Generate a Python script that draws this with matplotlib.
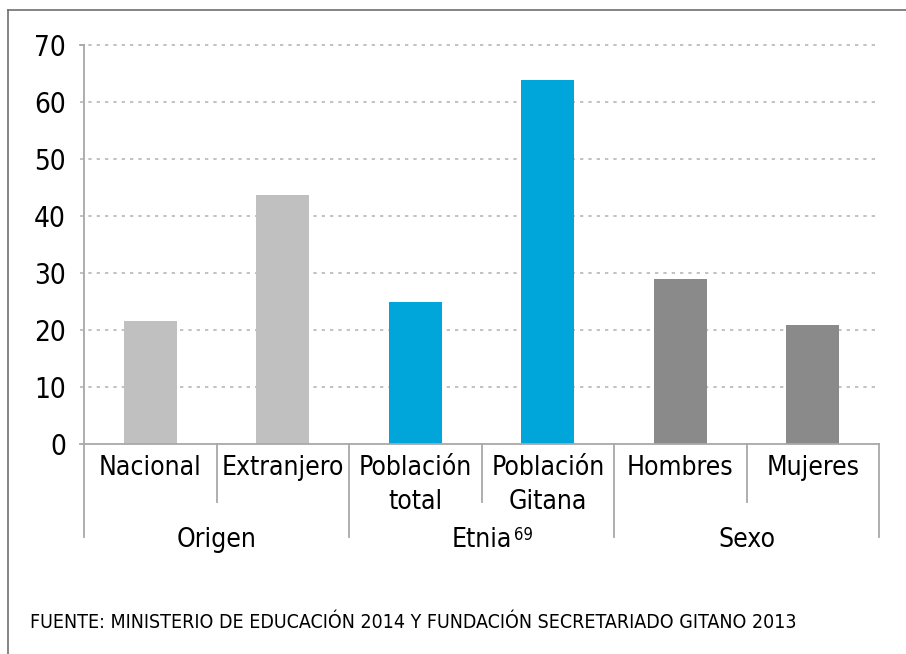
import matplotlib
matplotlib.use('Agg')
import matplotlib.pyplot as plt
from matplotlib.lines import Line2D

plt.rcParams['font.family'] = ['DejaVu Sans']
plt.rcParams['font.stretch'] = 'condensed'

# datos
categorias = ['Nacional', 'Extranjero', 'Población\ntotal', 'Población\nGitana', 'Hombres', 'Mujeres']
valores = [21.5, 43.7, 24.9, 63.8, 28.9, 20.9]
grupos = ['Origen', 'Etnia', 'Sexo']
nota_etnia = '69'
colores = ['#c0c0c0', '#c0c0c0', '#00a5d9', '#00a5d9', '#8a8a8a', '#8a8a8a']
yticks = [0, 10, 20, 30, 40, 50, 60, 70]
fuente = 'FUENTE: MINISTERIO DE EDUCACIÓN 2014 Y FUNDACIÓN SECRETARIADO GITANO 2013'

fig = plt.figure(figsize=(9.06, 6.54), dpi=100)
ax = fig.add_axes([84 / 906, 1 - 444 / 654, 795 / 906, 399 / 654])

x = list(range(len(categorias)))
ax.bar(x, valores, width=0.4, color=colores, zorder=3)

ax.set_xlim(-0.5, len(categorias) - 0.5)
ax.set_ylim(0, 70)
ax.set_yticks(yticks)
ax.set_xticks([])
for s in ['top', 'right', 'bottom', 'left']:
    ax.spines[s].set_visible(False)

# lineas de la cuadricula punteadas
for t in yticks[1:]:
    ax.plot([-0.53, len(categorias) - 0.5], [t, t], color='#b8b8b8', lw=1.2,
            linestyle=(0, (2, 3)), clip_on=False, zorder=1)
ax.tick_params(axis='y', length=0, pad=13, labelsize=20, colors='black')

gris = '#a8a8a8'
px = 10 / 57.0  # unidades de datos por pixel
# eje x
ax.plot([-0.53, len(categorias) - 0.5], [0, 0], color=gris, lw=1.3, clip_on=False, zorder=4)
# eje y hasta debajo de los grupos
ax.plot([-0.5, -0.5], [70, -93 * px], color=gris, lw=1.3, clip_on=False, zorder=4)
ax.plot([-0.53, -0.5], [70, 70], color=gris, lw=1.3, clip_on=False)

# separadores
for i in range(1, len(categorias) + 1):
    xs = i - 0.5
    largo = 93 if i % 2 == 0 else 58
    ax.plot([xs, xs], [0, -largo * px], color=gris, lw=1.3, clip_on=False)

for i, c in enumerate(categorias):
    ax.text(i, -11 * px, c, ha='center', va='top', fontsize=19,
            linespacing=1.4, clip_on=False)

txts = []
for g, nombre in enumerate(grupos):
    t = ax.text(2 * g + 0.5, -96 * px, nombre, ha='center', va='center', fontsize=19)
    txts.append(t)
ax.annotate(nota_etnia, xy=(1, 1), xycoords=txts[1], xytext=(2, 1),
            textcoords='offset points', ha='left', va='top', fontsize=12)

fig.text(30 / 906, 1 - 622 / 654, fuente, ha='left', va='center', fontsize=14)

# marco
fig.add_artist(Line2D([8 / 906, 8 / 906], [0, 1 - 10 / 654], color='#707070', lw=1.2))
fig.add_artist(Line2D([8 / 906, 1], [1 - 10 / 654, 1 - 10 / 654], color='#707070', lw=1.2))

fig.savefig('out.png', dpi=100)
